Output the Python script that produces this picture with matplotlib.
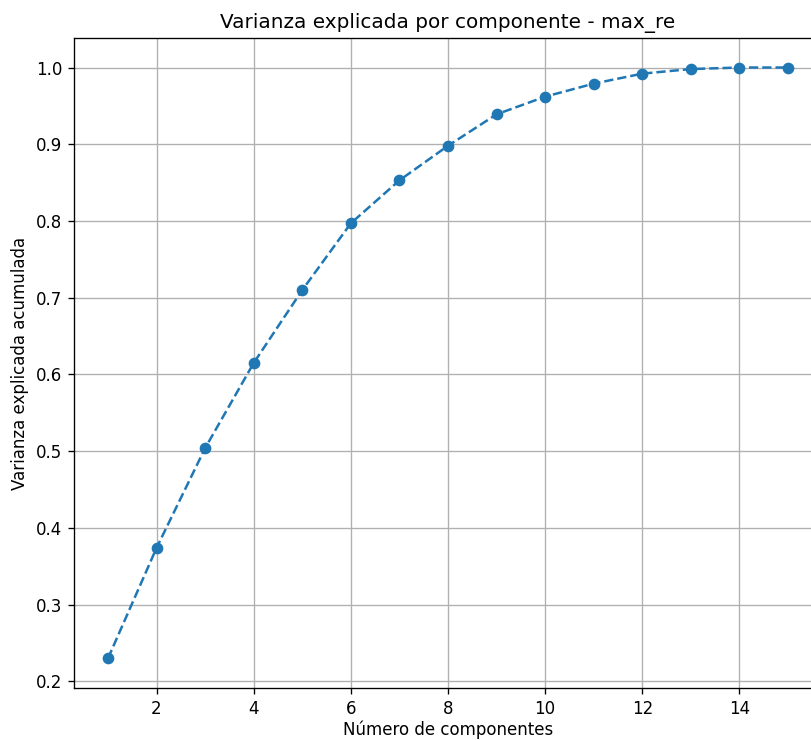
import numpy as np
import matplotlib.pyplot as plt

componentes = np.arange(1, 16)
varianzaAcum = [0.230, 0.374, 0.504, 0.615, 0.710, 0.797, 0.853, 0.898,
                0.939, 0.962, 0.979, 0.992, 0.998, 1.000, 1.000]

fig = plt.figure(figsize=(811 / 120, 740 / 120), dpi=120)
# the original image is cropped on the right, so the axes run past the edge
ax = fig.add_axes([0.0912, 0.0703, 0.9224, 0.8784])
ax.plot(componentes, varianzaAcum, marker='o', linestyle='--')
ax.set_xlabel('Número de componentes', labelpad=2)
ax.set_ylabel('Varianza explicada acumulada')
ax.set_title('Varianza explicada por componente - max_re')
ax.grid(True)

fig.savefig('out.png', dpi=120)
